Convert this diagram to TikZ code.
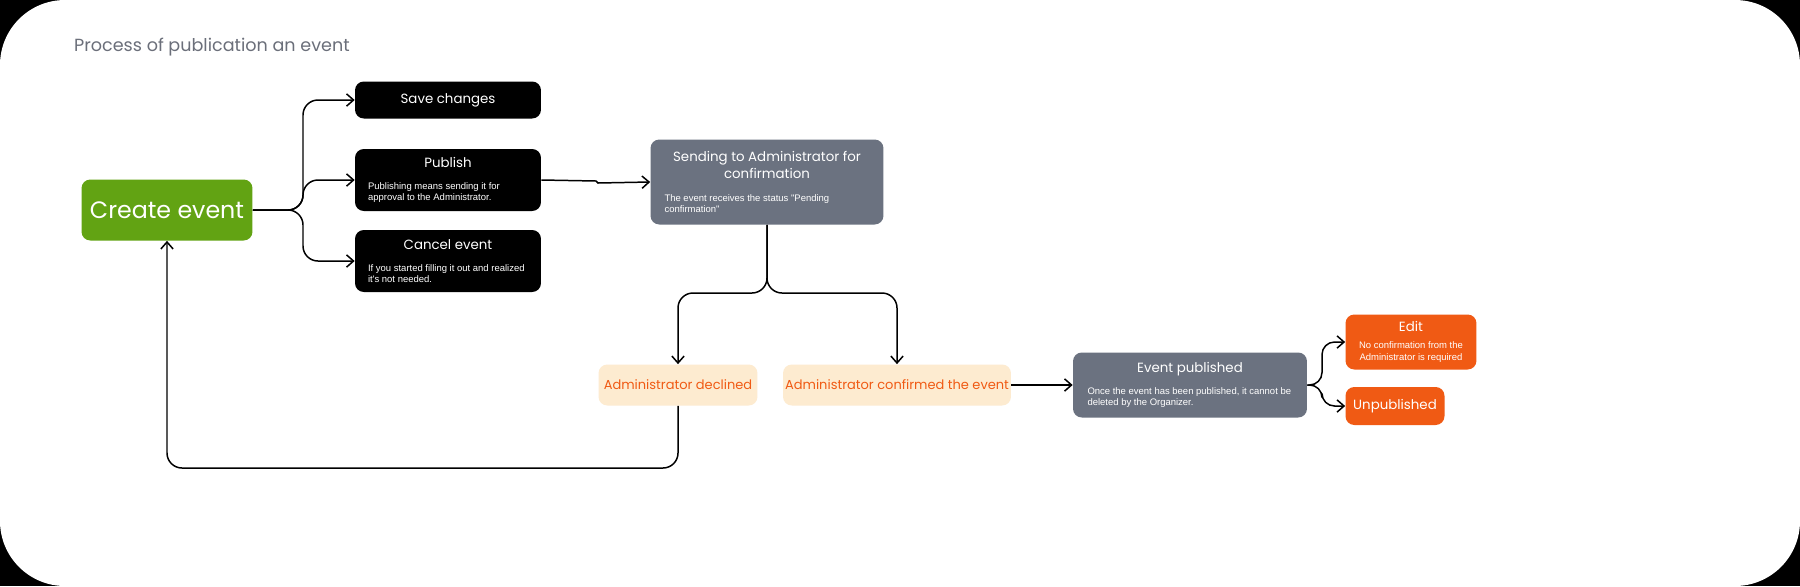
\documentclass[tikz,border=0pt]{standalone}
\usepackage{fontspec}
\setmainfont{Poppins}
\newfontfamily\descfont{Liberation Sans}
\usetikzlibrary{arrows.meta,positioning,calc}
\definecolor{leaf}{HTML}{62A313}
\definecolor{slate}{HTML}{6B7280}
\definecolor{flame}{HTML}{F05A14}
\definecolor{peach}{HTML}{FDEBD0}
\definecolor{inkgray}{HTML}{6B6F7A}
\tikzset{
  box/.style={rounded corners=5pt, inner sep=0pt, align=center, text=white},
  action/.style={box, fill=black, minimum width=3.72cm},
  answer/.style={box, fill=peach, text=flame, minimum height=0.82cm, font=\fontsize{7.4}{9}\selectfont},
  arr/.style={draw, line width=0.85pt, -{Straight Barb[length=4pt,width=7pt]}},
}
\newcommand{\boxtext}[3]{\parbox{#1}{\centering\fontsize{7.6}{10}\selectfont #2\par\vspace{6pt}\raggedright\descfont\fontsize{5.4}{6.6}\selectfont #3\par}}
\begin{document}
\begin{tikzpicture}[x=0.02cm, y=-0.02cm]
        %frame
        \fill[black] (0,0) rectangle (1800,586);
        \fill[white, rounded corners=1.3cm] (0,0) rectangle (1800,586);
        \useasboundingbox (0,0) rectangle (1800,586);
        \node[anchor=west, text=inkgray, font=\fontsize{10}{11}\selectfont] (title) at (68,47) {Process of publication an event};
        %nodes
        \node[box, fill=leaf, minimum width=3.42cm, minimum height=1.22cm, font=\fontsize{13.5}{15}\selectfont] (create) at (167,210) {Create event};
        \node[action, minimum height=0.74cm, font=\fontsize{7.6}{9}\selectfont] (save) at (448,100) {Save changes};
        \node[action, minimum height=1.24cm] (publish) at (448,180) {\boxtext{3.2cm}{Publish}{Publishing means sending it for approval to the Administrator.}};
        \node[action, minimum height=1.24cm] (cancel) at (448,261) {\boxtext{3.2cm}{Cancel event}{If you started filling it out and realized it's not needed.}};
        \node[box, fill=slate, minimum width=4.66cm, minimum height=1.7cm] (sending) at (767,182) {\boxtext{4.1cm}{Sending to Administrator for confirmation}{The event receives the status "Pending confirmation"}};
        \node[answer, minimum width=3.18cm] (declined) at (678,385) {Administrator declined};
        \node[answer, minimum width=4.56cm] (confirmed) at (897,385) {Administrator confirmed the event};
        \node[box, fill=slate, minimum width=4.68cm, minimum height=1.3cm] (published) at (1190,385) {\boxtext{4.1cm}{Event published}{Once the event has been published, it cannot be deleted by the Organizer.}};
        \node[box, fill=flame, minimum width=2.62cm, minimum height=1.1cm] (edit) at (1411,342) {\parbox{2.4cm}{\centering\fontsize{7.6}{10}\selectfont Edit\par\vspace{3pt}\descfont\fontsize{5.4}{6.6}\selectfont No confirmation from the Administrator is required\par}};
        \node[box, fill=flame, minimum width=1.98cm, minimum height=0.76cm, font=\fontsize{7.6}{9}\selectfont] (unpub) at (1395,406) {Unpublished};
        %edges
        \path[arr, rounded corners=0.3cm] (create.east) -- (303,210) |- (save.west);
        \path[arr, rounded corners=0.3cm] (create.east) -- (303,210) |- (publish.west);
        \path[arr, rounded corners=0.3cm] (create.east) -- (303,210) |- (cancel.west);
        \path[arr] (publish.east) -- (596,181) -- (598,183) -- (sending.west);
        \path[arr, rounded corners=0.3cm] (sending.south) -- (767,293) -| (declined.north);
        \path[arr, rounded corners=0.3cm] (sending.south) -- (767,293) -| (confirmed.north);
        \path[arr, rounded corners=0.3cm] (declined.south) -- (678,468) -| (create.south);
        \path[arr] (confirmed.east) -- (published.west);
        \path[arr, rounded corners=0.25cm] (published.east) -- (1322,385) |- (edit.west);
        \path[arr, rounded corners=0.25cm] (published.east) -- (1322,385) |- (unpub.west);
      \end{tikzpicture}
\end{document}
